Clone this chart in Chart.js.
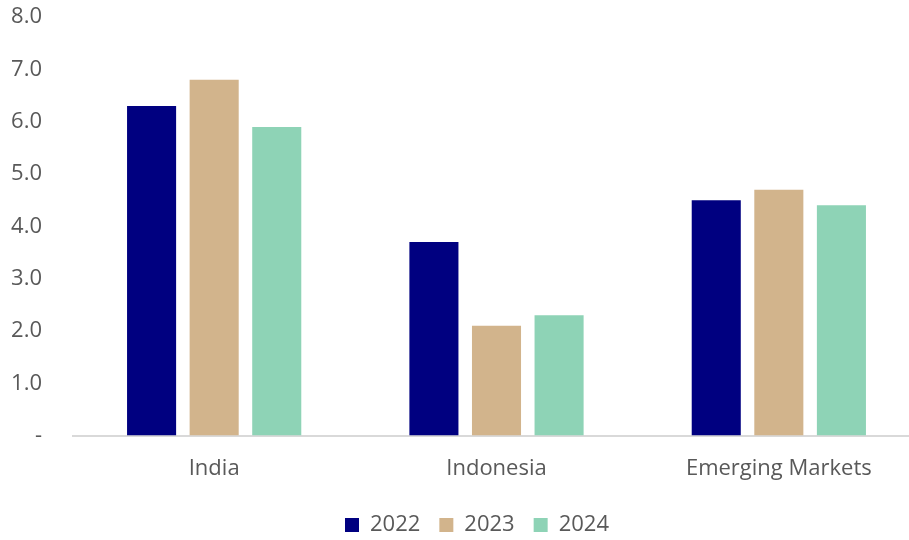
<html>
<head>
    <meta charset="utf-8">
    <script src="https://cdn.jsdelivr.net/npm/chart.js"></script>
    <style>
        html, body { margin: 0; background: #fff; overflow: hidden; }
        /* a bit wider than the window: the axis runs off the right edge like the original */
        #wrap { width: 920px; height: 540px; }
    </style>
</head>
<body>
    <div id="wrap"><canvas id="myChart"></canvas></div>
    <script>
        const categories = ["India", "Indonesia", "Emerging Markets"];
        const years = ["2022", "2023", "2024"];
        const values2022 = [6.3, 3.7, 4.5];
        const values2023 = [6.8, 2.1, 4.7];
        const values2024 = [5.9, 2.3, 4.4];
        const colors = ["#000080", "#D2B48C", "#8ED3B6"];
        const fontFamily = "'Open Sans', 'Noto Sans', sans-serif";

        // nudge the legend a little to the right
        const legendShift = {
            id: "legendShift",
            afterLayout(chart) {
                chart.legend.left += 13;
                chart.legend.right += 13;
            },
        };

        const ctx = document.getElementById("myChart").getContext("2d");
        const myChart = new Chart(ctx, {
            type: "bar",
            data: {
                labels: categories,
                datasets: [
                    { label: years[0], data: values2022, backgroundColor: colors[0] },
                    { label: years[1], data: values2023, backgroundColor: colors[1] },
                    { label: years[2], data: values2024, backgroundColor: colors[2] },
                ],
            },
            options: {
                responsive: true,
                maintainAspectRatio: false,
                animation: false,
                layout: { padding: { left: 8, right: 0, top: 17, bottom: -6 } },
                datasets: {
                    bar: { categoryPercentage: 0.665, barPercentage: 0.784 }
                },
                plugins: {
                    legend: {
                        position: "bottom",
                        labels: {
                            boxWidth: 14,
                            boxHeight: 14,
                            padding: 19,
                            color: "#595959",
                            font: { family: fontFamily, size: 22 },
                        },
                    },
                    tooltip: { enabled: false },
                },
                scales: {
                    x: {
                        grid: { display: false, drawTicks: false },
                        border: { display: true, color: "#d9d9d9", width: 2 },
                        afterFit: (scale) => { scale.height = scale.height - 7; },
                        ticks: {
                            padding: 20,
                            color: "#595959",
                            font: { family: fontFamily, size: 22 },
                        },
                    },
                    y: {
                        min: 0,
                        max: 8,
                        grid: { display: false, drawTicks: false },
                        border: { display: false },
                        afterFit: (scale) => {
                            scale.width = 65;
                            scale.paddingTop = 0;
                            scale.paddingBottom = 0;
                        },
                        ticks: {
                            stepSize: 1,
                            padding: 31,
                            color: "#595959",
                            font: { family: fontFamily, size: 22 },
                            callback: (v) => (v === 0 ? "-" : v.toFixed(1)),
                        },
                    },
                },
            },
            plugins: [legendShift],
        });
    </script>
</body>
</html>
